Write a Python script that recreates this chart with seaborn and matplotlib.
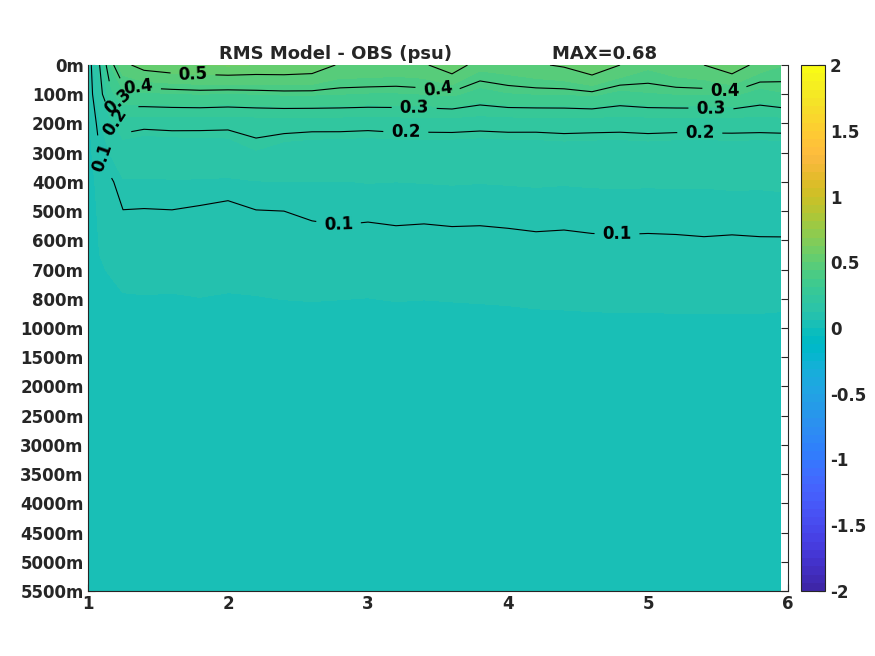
import numpy as np
import matplotlib
matplotlib.use('Agg')
import matplotlib.pyplot as plt
import seaborn as sns
from matplotlib.colors import ListedColormap, Normalize

# ---- dane ----
x_vals = [1.0, 1.083, 1.167, 1.25, 1.4, 1.6, 1.8, 2.0, 2.2, 2.4, 2.6, 2.8, 3.0, 3.2,
          3.4, 3.6, 3.8, 4.0, 4.2, 4.4, 4.6, 4.8, 5.0, 5.2, 5.4, 5.6, 5.8, 5.95]

depth_labels = ['0m', '100m', '200m', '300m', '400m', '500m', '600m', '700m', '800m',
                '1000m', '1500m', '2000m', '2500m', '3000m', '3500m', '4000m',
                '4500m', '5000m', '5500m']

rms_0m = [0.06, 0.20, 0.38, 0.48, 0.53, 0.55, 0.56, 0.57, 0.56, 0.56, 0.55, 0.49, 0.49, 0.48,
          0.49, 0.55, 0.46, 0.47, 0.49, 0.51, 0.56, 0.50, 0.45, 0.48, 0.50, 0.55, 0.47, 0.44]
rms_100m = [0.055, 0.17, 0.295, 0.36, 0.365, 0.37, 0.375, 0.37, 0.375, 0.38, 0.38, 0.375, 0.37, 0.37,
            0.375, 0.385, 0.35, 0.37, 0.375, 0.375, 0.385, 0.355, 0.37, 0.375, 0.375, 0.385, 0.35, 0.37]
rms_200m = [0.05, 0.12, 0.18, 0.22, 0.212, 0.215, 0.213, 0.21, 0.215, 0.216, 0.214, 0.215, 0.213, 0.216,
            0.215, 0.217, 0.214, 0.216, 0.215, 0.217, 0.216, 0.215, 0.217, 0.216, 0.218, 0.217, 0.216, 0.217]
rms_300m = [0.045, 0.099, 0.13, 0.16, 0.152, 0.155, 0.16, 0.165, 0.185, 0.17, 0.165, 0.162, 0.16, 0.163,
            0.165, 0.162, 0.16, 0.163, 0.165, 0.168, 0.166, 0.165, 0.168, 0.165, 0.163, 0.166, 0.165, 0.166]
rms_400m = [0.045, 0.075, 0.095, 0.12, 0.121, 0.122, 0.121, 0.118, 0.123, 0.124, 0.125, 0.124, 0.126, 0.125,
            0.126, 0.127, 0.126, 0.127, 0.128, 0.127, 0.128, 0.129, 0.128, 0.129, 0.128, 0.13, 0.129, 0.13]
rms_500m = [0.04, 0.07, 0.08, 0.099, 0.098, 0.099, 0.095, 0.09, 0.099, 0.1, 0.105, 0.108, 0.106, 0.108,
            0.107, 0.109, 0.108, 0.11, 0.112, 0.111, 0.113, 0.112, 0.113, 0.112, 0.114, 0.113, 0.114, 0.115]
rms_600m = [0.038, 0.065, 0.072, 0.085, 0.085, 0.086, 0.085, 0.084, 0.086, 0.088, 0.09, 0.091, 0.09, 0.092,
            0.091, 0.092, 0.092, 0.093, 0.095, 0.094, 0.096, 0.097, 0.096, 0.097, 0.098, 0.097, 0.098, 0.098]
rms_700m = [0.036, 0.06, 0.065, 0.072, 0.072, 0.073, 0.072, 0.072, 0.074, 0.075, 0.077, 0.077, 0.076, 0.078,
            0.077, 0.078, 0.079, 0.08, 0.081, 0.082, 0.083, 0.084, 0.083, 0.084, 0.085, 0.084, 0.085, 0.085]
rms_800m = [0.034, 0.052, 0.056, 0.06, 0.061, 0.06, 0.062, 0.06, 0.061, 0.063, 0.064, 0.063, 0.062, 0.064,
            0.063, 0.064, 0.065, 0.066, 0.068, 0.069, 0.07, 0.071, 0.07, 0.072, 0.071, 0.072, 0.071, 0.07]
rms_1000m = [0.032, 0.042, 0.044, 0.045, 0.045, 0.046, 0.045, 0.046, 0.047, 0.048, 0.048, 0.049, 0.048, 0.049,
             0.05, 0.05, 0.05, 0.051, 0.052, 0.052, 0.053, 0.053, 0.054, 0.053, 0.054, 0.053, 0.054, 0.053]
rms_1500m = [0.03, 0.036, 0.038, 0.039, 0.04, 0.04, 0.041, 0.04, 0.041, 0.042, 0.041, 0.042, 0.042, 0.041,
             0.042, 0.043, 0.042, 0.043, 0.043, 0.042, 0.043, 0.044, 0.043, 0.044, 0.043, 0.044, 0.043, 0.044]
rms_2000m = [0.028, 0.033, 0.035, 0.036, 0.036, 0.037, 0.037, 0.036, 0.037, 0.038, 0.037, 0.038, 0.038, 0.037,
             0.038, 0.038, 0.038, 0.039, 0.038, 0.039, 0.039, 0.039, 0.039, 0.04, 0.039, 0.04, 0.039, 0.04]
rms_2500m = [0.026, 0.031, 0.032, 0.033, 0.033, 0.034, 0.034, 0.033, 0.034, 0.034, 0.034, 0.035, 0.034, 0.034,
             0.035, 0.035, 0.035, 0.035, 0.035, 0.036, 0.035, 0.036, 0.036, 0.036, 0.036, 0.036, 0.036, 0.036]
rms_3000m = [0.025, 0.029, 0.03, 0.031, 0.031, 0.031, 0.032, 0.031, 0.032, 0.032, 0.032, 0.032, 0.032, 0.032,
             0.032, 0.033, 0.032, 0.033, 0.033, 0.033, 0.033, 0.033, 0.033, 0.034, 0.033, 0.034, 0.033, 0.034]
rms_3500m = [0.024, 0.027, 0.028, 0.029, 0.029, 0.029, 0.03, 0.029, 0.03, 0.03, 0.03, 0.03, 0.03, 0.03,
             0.03, 0.031, 0.03, 0.031, 0.031, 0.031, 0.031, 0.031, 0.031, 0.032, 0.031, 0.032, 0.031, 0.032]
rms_4000m = [0.023, 0.026, 0.027, 0.027, 0.028, 0.028, 0.028, 0.028, 0.028, 0.028, 0.028, 0.029, 0.028, 0.029,
             0.029, 0.029, 0.029, 0.029, 0.029, 0.029, 0.03, 0.029, 0.03, 0.03, 0.03, 0.03, 0.03, 0.03]
rms_4500m = [0.022, 0.025, 0.026, 0.026, 0.026, 0.027, 0.027, 0.027, 0.027, 0.027, 0.027, 0.027, 0.027, 0.027,
             0.028, 0.028, 0.028, 0.028, 0.028, 0.028, 0.028, 0.028, 0.028, 0.029, 0.028, 0.029, 0.028, 0.029]
rms_5000m = [0.021, 0.024, 0.025, 0.025, 0.025, 0.026, 0.026, 0.026, 0.026, 0.026, 0.026, 0.026, 0.026, 0.026,
             0.027, 0.027, 0.027, 0.027, 0.027, 0.027, 0.027, 0.027, 0.027, 0.028, 0.027, 0.028, 0.027, 0.028]
rms_5500m = [0.02, 0.023, 0.024, 0.024, 0.024, 0.025, 0.025, 0.025, 0.025, 0.025, 0.025, 0.025, 0.025, 0.025,
             0.026, 0.026, 0.026, 0.026, 0.026, 0.026, 0.026, 0.026, 0.026, 0.027, 0.026, 0.027, 0.026, 0.027]

contour_levels = [0.1, 0.2, 0.3, 0.4, 0.5]
cbar_ticks = [-2, -1.5, -1, -0.5, 0, 0.5, 1, 1.5, 2]
cbar_ticklabels = ['-2', '-1.5', '-1', '-0.5', '0', '0.5', '1', '1.5', '2']
max_value = 0.68  # z tytułu oryginału

# miejsca etykiet izolinii (jak w oryginale)
label_spots = [(1.75, 0.3), (1.36, 0.78), (3.5, 0.8), (5.55, 0.8),
               (1.215, 1.25), (3.33, 1.45), (5.45, 1.4),
               (1.19, 1.95), (3.27, 2.3), (5.37, 2.3),
               (1.085, 3.2), (2.8, 5.1), (4.78, 5.6)]

rows = [rms_0m, rms_100m, rms_200m, rms_300m, rms_400m, rms_500m, rms_600m, rms_700m,
        rms_800m, rms_1000m, rms_1500m, rms_2000m, rms_2500m, rms_3000m, rms_3500m,
        rms_4000m, rms_4500m, rms_5000m, rms_5500m]
Z = np.array(rows)
depth_idx = np.arange(len(depth_labels))
X, Y = np.meshgrid(np.array(x_vals), depth_idx)

# parula (64 kolory)
parula_data = [
    [0.2422, 0.1504, 0.6603], [0.2504, 0.1650, 0.7076], [0.2578, 0.1818, 0.7511], [0.2647, 0.1978, 0.7952],
    [0.2706, 0.2147, 0.8364], [0.2751, 0.2342, 0.8710], [0.2783, 0.2559, 0.8991], [0.2803, 0.2782, 0.9221],
    [0.2813, 0.3006, 0.9414], [0.2810, 0.3228, 0.9579], [0.2795, 0.3447, 0.9717], [0.2760, 0.3667, 0.9829],
    [0.2699, 0.3892, 0.9906], [0.2602, 0.4123, 0.9952], [0.2440, 0.4358, 0.9988], [0.2206, 0.4603, 0.9973],
    [0.1963, 0.4847, 0.9892], [0.1834, 0.5074, 0.9798], [0.1786, 0.5289, 0.9682], [0.1764, 0.5499, 0.9520],
    [0.1687, 0.5703, 0.9359], [0.1540, 0.5902, 0.9218], [0.1460, 0.6091, 0.9079], [0.1380, 0.6276, 0.8973],
    [0.1248, 0.6459, 0.8883], [0.1113, 0.6635, 0.8763], [0.0952, 0.6798, 0.8598], [0.0689, 0.6948, 0.8394],
    [0.0297, 0.7082, 0.8163], [0.0036, 0.7203, 0.7917], [0.0067, 0.7312, 0.7660], [0.0433, 0.7411, 0.7394],
    [0.0964, 0.7500, 0.7120], [0.1408, 0.7584, 0.6842], [0.1717, 0.7670, 0.6554], [0.1938, 0.7758, 0.6251],
    [0.2161, 0.7843, 0.5923], [0.2470, 0.7918, 0.5567], [0.2906, 0.7973, 0.5188], [0.3406, 0.8008, 0.4789],
    [0.3909, 0.8029, 0.4354], [0.4456, 0.8024, 0.3909], [0.5044, 0.7993, 0.3480], [0.5616, 0.7942, 0.3045],
    [0.6174, 0.7876, 0.2612], [0.6720, 0.7793, 0.2227], [0.7242, 0.7698, 0.1910], [0.7738, 0.7598, 0.1646],
    [0.8203, 0.7498, 0.1535], [0.8634, 0.7406, 0.1596], [0.9035, 0.7330, 0.1774], [0.9393, 0.7288, 0.2100],
    [0.9728, 0.7298, 0.2394], [0.9956, 0.7434, 0.2371], [0.9970, 0.7659, 0.2199], [0.9952, 0.7893, 0.2028],
    [0.9892, 0.8136, 0.1885], [0.9786, 0.8386, 0.1766], [0.9676, 0.8639, 0.1643], [0.9610, 0.8890, 0.1537],
    [0.9597, 0.9135, 0.1423], [0.9628, 0.9373, 0.1265], [0.9691, 0.9606, 0.1064], [0.9769, 0.9839, 0.0805]]
parula = ListedColormap(parula_data, name='parula')

sns.set_style('ticks')
plt.rcParams['font.family'] = ['DejaVu Sans']
plt.rcParams['font.weight'] = 'bold'

fig = plt.figure(figsize=(8.75, 6.56), dpi=100)
ax = fig.add_axes([88 / 875, 65 / 656, 700 / 875, 526 / 656])
cax = fig.add_axes([801 / 875, 65 / 656, 24 / 875, 526 / 656])

fill_levels = np.linspace(-2, 2, 65)
norm = Normalize(vmin=-2, vmax=2)
cf = ax.contourf(X, Y, Z, levels=fill_levels, cmap=parula, norm=norm)
cs = ax.contour(X, Y, Z, levels=contour_levels, colors='k', linewidths=0.8)
lbls = ax.clabel(cs, fmt='%.1f', fontsize=12, inline=True, inline_spacing=8, manual=label_spots)
for t in lbls:
    t.set_fontweight('bold')

ax.set_xlim(1, 6)
ax.set_ylim(len(depth_labels) - 1, 0)
ax.set_xticks([1, 2, 3, 4, 5, 6])
ax.set_xticklabels(['1', '2', '3', '4', '5', '6'], fontsize=12, fontweight='bold')
ax.set_yticks(depth_idx)
ax.set_yticklabels(depth_labels, fontsize=12, fontweight='bold')
ax.tick_params(direction='in', top=False, right=True, length=5, width=0.8, colors='#262626')
ax.tick_params(axis='both', labelcolor='#262626', pad=3)
for sp in ax.spines.values():
    sp.set_color('#262626')
    sp.set_linewidth(0.8)
ax.spines['top'].set_visible(False)

ax.set_title('RMS Model - OBS (psu)' + ' ' * 16 + 'MAX=%.2f' % max_value,
             fontsize=13, fontweight='bold', pad=4)

cb = fig.colorbar(cf, cax=cax, ticks=cbar_ticks)
cb.ax.set_yticklabels(cbar_ticklabels, fontsize=12, fontweight='bold', color='#262626')
cb.ax.tick_params(direction='in', length=5, width=0.8, colors='#262626')
cb.ax.set_ylim(-2, 2)
cb.outline.set_edgecolor('#262626')
cb.outline.set_linewidth(0.8)

fig.savefig('out.png', dpi=100)
